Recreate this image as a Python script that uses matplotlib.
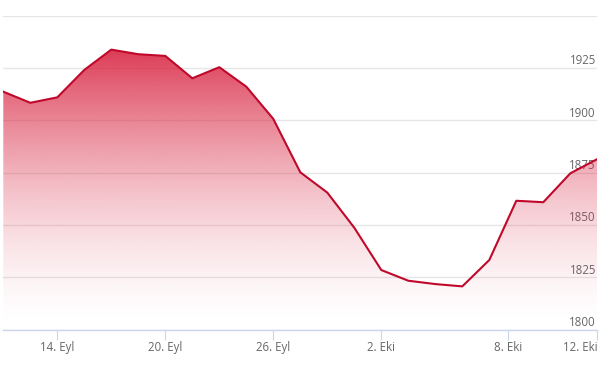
import numpy as np
import matplotlib
matplotlib.use("Agg")
import matplotlib.pyplot as plt
from matplotlib.transforms import ScaledTranslation

# values, one per trading day
prices = [1913.6, 1908.3, 1910.9, 1924.0, 1933.7, 1931.5, 1930.7, 1920.0,
          1925.3, 1916.0, 1900.6, 1875.1, 1865.4, 1848.6, 1828.4, 1823.3,
          1821.7, 1820.6, 1833.2, 1861.5, 1860.8, 1874.6, 1881.4]
tick_pos = [2, 6, 10, 14, 18.68, 22]
tick_labels = ["14. Eyl", "20. Eyl", "26. Eyl", "2. Eki", "8. Eki", "12. Eki"]
y_ticks = [1800, 1825, 1850, 1875, 1900, 1925, 1950]

plt.rcParams['font.family'] = ['Open Sans', 'DejaVu Sans']

fig = plt.figure(figsize=(6.13, 3.65), dpi=100)
ax = fig.add_axes([3.3 / 613, 1 - 329.5 / 365, 594 / 613, 314 / 365])

x = np.arange(len(prices))
y = np.array(prices)
ymin, ymax = 1800, 1950
ax.set_xlim(0, len(prices) - 1)
ax.set_ylim(ymin, ymax)

# gradient area under the line
red = np.array([216, 33, 62]) / 255
top = y.max()
n = 256
t = np.linspace(0, 1, n)[:, None]          # 0 at top of data, 1 at bottom
alpha = 0.88 * (1 - t) ** 1.6
grad = np.zeros((n, 1, 4))
grad[..., :3] = red
grad[..., 3] = alpha
poly = ax.fill_between(x, y, ymin, color="none", lw=0)
im = ax.imshow(grad, aspect="auto", extent=[0, len(prices) - 1, ymin, top],
               origin="upper", zorder=1)
im.set_clip_path(poly.get_paths()[0], transform=ax.transData)

ax.plot(x, y, color="#c0082a", lw=1.5, zorder=3, solid_joinstyle="round")

# grid and axes styling
ax.set_yticks(y_ticks)
ax.yaxis.grid(True, color="#e6e6e6", lw=1)
ax.set_axisbelow(True)
for s in ["top", "left", "right"]:
    ax.spines[s].set_visible(False)
ax.spines["bottom"].set_color("#ccd6eb")
ax.spines["bottom"].set_linewidth(1)
ax.spines["bottom"].set_zorder(4)

ax.yaxis.tick_right()
ax.tick_params(axis="y", length=0, pad=-1, labelsize=8.3, labelcolor="#666666")
ax.set_yticklabels([str(v) for v in y_ticks])
off = ScaledTranslation(0, 0.3 / 72, fig.dpi_scale_trans)
for lab in ax.get_yticklabels():
    lab.set_horizontalalignment("right")
    lab.set_verticalalignment("bottom")
    lab.set_transform(lab.get_transform() + off)
ax.get_yticklabels()[-1].set_visible(False)

ax.set_xticks(tick_pos)
ax.set_xticklabels(tick_labels)
ax.tick_params(axis="x", length=7, width=0.8, color="#ccd6eb", pad=1,
               labelsize=8.3, labelcolor="#666666")
ax.get_xticklabels()[-1].set_horizontalalignment("right")

fig.savefig("out.png", dpi=100)
